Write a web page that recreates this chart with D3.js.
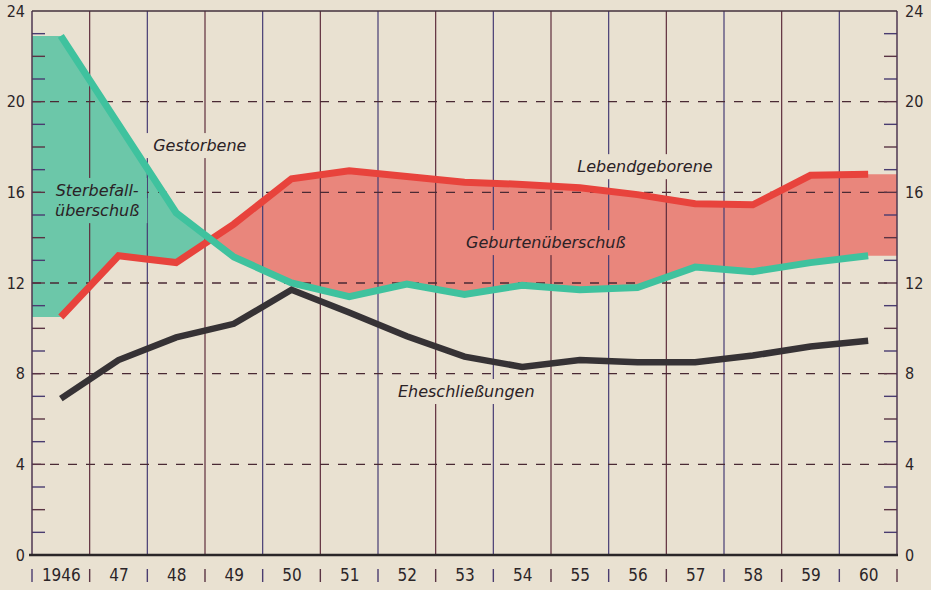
<!DOCTYPE html>
<html><head><meta charset="utf-8">
<script src="https://cdn.jsdelivr.net/npm/d3@7"></script>
<style>
html,body{margin:0;padding:0;background:#e9e1d1;}
svg{display:block}
.num{font-family:"DejaVu Sans",sans-serif;font-stretch:condensed;fill:#2b2528;}
.lab{font-family:"DejaVu Sans",sans-serif;font-style:italic;fill:#2b2226;font-size:16px;}
</style>
</head><body>
<svg id="c" width="931" height="590"></svg>
<script>
// ---- data ----
const years = [1946,1947,1948,1949,1950,1951,1952,1953,1954,1955,1956,1957,1958,1959,1960];
const yearLabels = ["1946","47","48","49","50","51","52","53","54","55","56","57","58","59","60"];
const gestorbene      = [22.9,19.0,15.1,13.15,12.0,11.4,11.95,11.5,11.9,11.7,11.8,12.7,12.5,12.9,13.2];
const lebendgeborene  = [10.5,13.2,12.9,14.6,16.6,16.95,16.7,16.45,16.35,16.2,15.9,15.5,15.45,16.75,16.8];
const eheschliessungen= [6.9,8.6,9.6,10.2,11.7,10.7,9.65,8.75,8.3,8.6,8.5,8.5,8.8,9.2,9.45];
const yTicks = [0,4,8,12,16,20,24];
const gridValues = [4,8,12,16,20];
const labels = [
  {t:"Gestorbene", yr:1948.41, v:17.82},
  {t:"Sterbefall-", yr:1946.63, v:15.84},
  {t:"überschuß", yr:1946.63, v:14.95},
  {t:"Lebendgeborene", yr:1956.13, v:16.89},
  {t:"Geburtenüberschuß", yr:1954.41, v:13.54},
  {t:"Eheschließungen", yr:1953.03, v:6.97}
];

// ---- scales ----
const W=931,H=590;
const x = d3.scaleLinear().domain([years[0]-0.5, years[years.length-1]+0.5]).range([32,897]);
const y = d3.scaleLinear().domain([0,24]).range([555,11]);
const svg = d3.select("#c");
svg.append("rect").attr("width",W).attr("height",H).attr("fill","#e9e1d1");
const defs = svg.append("defs");

// ---- areas (with crossing points) ----
let pts = [{x:x.domain()[0], g:gestorbene[0], r:lebendgeborene[0]}];
years.forEach((yr,i)=>pts.push({x:yr,g:gestorbene[i],r:lebendgeborene[i]}));
pts.push({x:x.domain()[1], g:gestorbene[years.length-1], r:lebendgeborene[years.length-1]});
let ap = [];
for(let i=0;i<pts.length;i++){
  ap.push(pts[i]);
  if(i<pts.length-1){
    const a=pts[i], b=pts[i+1];
    const da=a.g-a.r, db=b.g-b.r;
    if(da*db<0){
      const t=da/(da-db);
      const v=a.g+t*(b.g-a.g);
      ap.push({x:a.x+t*(b.x-a.x), g:v, r:v});
    }
  }
}
svg.append("path").datum(ap)
  .attr("d", d3.area().x(d=>x(d.x)).y0(d=>y(d.r)).y1(d=>y(Math.max(d.g,d.r))))
  .attr("fill","#6cc7a9");
svg.append("path").datum(ap)
  .attr("d", d3.area().x(d=>x(d.x)).y0(d=>y(d.g)).y1(d=>y(Math.max(d.g,d.r))))
  .attr("fill","#e9867c");

// ---- labels (made first to measure for grid mask) ----
const labG = svg.append("g");
const labNodes = labG.selectAll("text").data(labels).join("text")
  .attr("class","lab").attr("text-anchor","middle")
  .attr("x",d=>x(d.yr)).attr("y",d=>y(d.v)).text(d=>d.t);

const mask = defs.append("mask").attr("id","gm").attr("maskUnits","userSpaceOnUse")
  .attr("x",0).attr("y",0).attr("width",W).attr("height",H);
mask.append("rect").attr("width",W).attr("height",H).attr("fill","white");
labNodes.each(function(){
  const b=this.getBBox();
  mask.append("rect").attr("x",b.x-8).attr("y",b.y-3).attr("width",b.width+16).attr("height",b.height+6).attr("fill","black");
});

// ---- grid ----
const grid = svg.insert("g", "g").attr("mask","url(#gm)");
const bounds = years.map(d=>d-0.5).concat([years[years.length-1]+0.5]);
grid.selectAll("line.v").data(bounds.slice(1,-1)).join("line")
  .attr("x1",d=>x(d)).attr("x2",d=>x(d)).attr("y1",y(24)).attr("y2",y(0))
  .attr("stroke",(d,i)=>i%2?"#463c74":"#5e2d3c").attr("stroke-width",1.2);
grid.selectAll("line.h").data(gridValues).join("line")
  .attr("x1",x.range()[0]).attr("x2",x.range()[1]).attr("y1",d=>y(d)).attr("y2",d=>y(d))
  .attr("stroke","#4a2a34").attr("stroke-width",1.3).attr("stroke-dasharray","9,9");

// minor ticks
const minor = d3.range(1,24);
svg.append("g").selectAll("line").data(minor).join("line")
  .attr("x1",x.range()[0]).attr("x2",x.range()[0]+13).attr("y1",d=>y(d)).attr("y2",d=>y(d))
  .attr("stroke",(d,i)=>i%2?"#5a3444":"#4a3c70").attr("stroke-width",1.4);
svg.append("g").selectAll("line").data(minor).join("line")
  .attr("x1",x.range()[1]-13).attr("x2",x.range()[1]).attr("y1",d=>y(d)).attr("y2",d=>y(d))
  .attr("stroke",(d,i)=>i%2?"#5a3444":"#4a3c70").attr("stroke-width",1.4);

// frame
svg.append("line").attr("x1",x.range()[0]).attr("x2",x.range()[0]).attr("y1",y(24)).attr("y2",y(0)).attr("stroke","#4e3650").attr("stroke-width",1.5);
svg.append("line").attr("x1",x.range()[1]).attr("x2",x.range()[1]).attr("y1",y(24)).attr("y2",y(0)).attr("stroke","#4e3650").attr("stroke-width",1.5);
svg.append("line").attr("x1",x.range()[0]).attr("x2",x.range()[1]).attr("y1",y(24)).attr("y2",y(24)).attr("stroke","#43303c").attr("stroke-width",1.5);

// ---- lines ----
const line = d3.line().x((d,i)=>x(years[i])).y(d=>y(d));
const drawLine=(data,col,w)=>svg.append("path").datum(data).attr("d",line)
  .attr("fill","none").attr("stroke",col).attr("stroke-width",w)
  .attr("stroke-linejoin","miter").attr("stroke-linecap","butt");
drawLine(lebendgeborene,"#e8433c",7);
drawLine(gestorbene,"#3fc29e",7);
drawLine(eheschliessungen,"#363235",6.5);

// bottom axis line
svg.append("line").attr("x1",x.range()[0]-3).attr("x2",x.range()[1]+1).attr("y1",y(0)).attr("y2",y(0)).attr("stroke","#2a2628").attr("stroke-width",2.5);

// ---- axes ----
const ax = svg.append("g").attr("transform",`translate(${x.range()[0]},0)`)
  .call(d3.axisLeft(y).tickValues(yTicks).tickSize(0).tickPadding(7));
const axR = svg.append("g").attr("transform",`translate(${x.range()[1]},0)`)
  .call(d3.axisRight(y).tickValues(yTicks).tickSize(0).tickPadding(8));
const axB = svg.append("g").attr("transform",`translate(0,${y(0)})`)
  .call(d3.axisBottom(x).tickValues(years).tickFormat((d,i)=>yearLabels[i]).tickSize(0).tickPadding(14));
[ax,axR,axB].forEach(a=>{a.select(".domain").remove(); a.selectAll("text").attr("class","num").style("font-size","16px").attr("fill",null);});
axB.selectAll("text").style("font-size","17px");
// separators
svg.append("g").selectAll("line").data(bounds).join("line")
  .attr("x1",d=>x(d)).attr("x2",d=>x(d)).attr("y1",y(0)+14).attr("y2",y(0)+27)
  .attr("stroke",(d,i)=>i%2?"#5a3444":"#4a3c70").attr("stroke-width",1.4);

labG.raise();
</script>
</body></html>
